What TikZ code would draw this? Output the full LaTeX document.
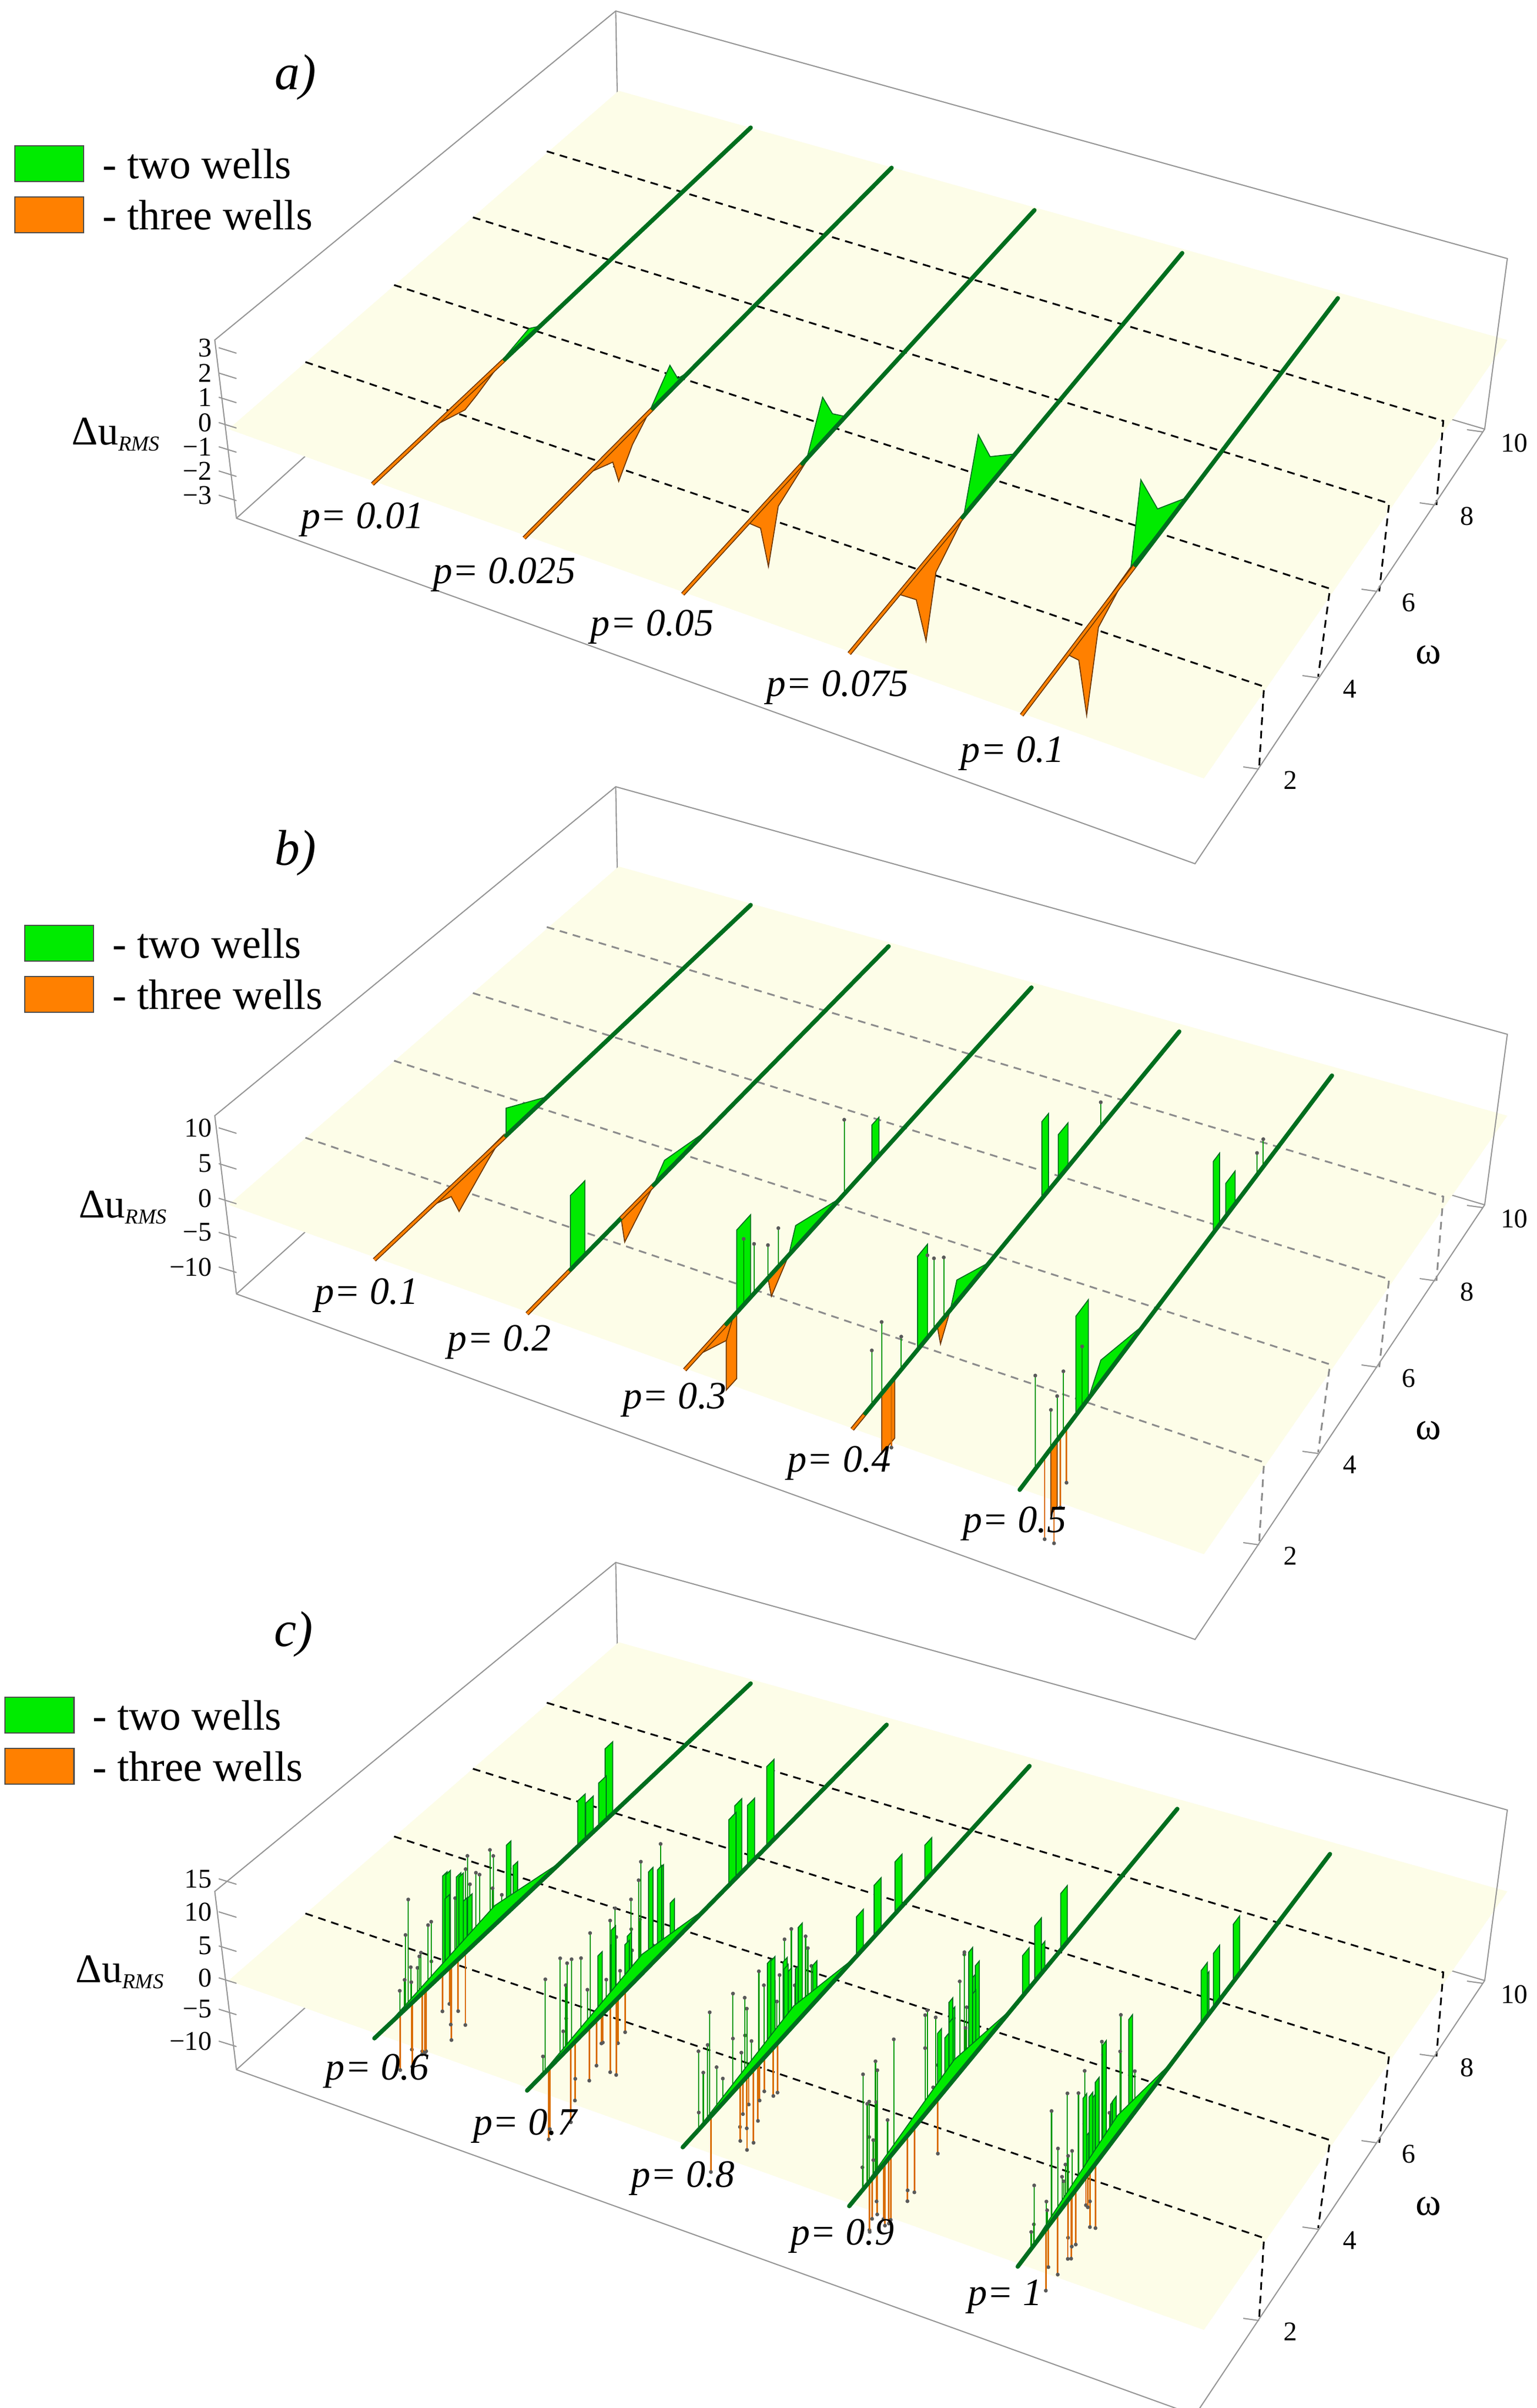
\documentclass[tikz,border=0pt]{standalone}
\usepackage{fontspec}
\setmainfont{Liberation Serif}
\usetikzlibrary{calc}
\definecolor{gfill}{RGB}{0,235,0}
\definecolor{gline}{RGB}{0,110,30}
\definecolor{ofill}{RGB}{255,128,0}
\definecolor{oline}{RGB}{110,55,0}
\definecolor{planec}{RGB}{253,253,232}
\definecolor{boxc}{RGB}{150,150,150}
\tikzset{
 boxl/.style={boxc,line width=0.6pt},
 dsh/.style={dashed,line width=0.9pt,dash pattern=on 4pt off 3pt},
 gmain/.style={gline,line width=2.2pt,line cap=round},
 omain/.style={draw=oline,double=ofill,double distance=1.2pt,line width=0.5pt},
 gpoly/.style={fill=gfill,draw=gline,line width=0.5pt},
 opoly/.style={fill=ofill,draw=oline,line width=0.5pt},
 gspk/.style={green!60!black,line width=0.6pt},
 ospk/.style={ofill!85!black,line width=0.8pt},
 dotn/.style={circle,fill=black!65,inner sep=0pt,minimum size=2pt},
 tickl/.style={font=\fontsize{14}{14}\selectfont},
 legt/.style={font=\fontsize{22}{22}\selectfont,anchor=west},
 plab/.style={font=\fontsize{20}{20}\selectfont\itshape},
 panl/.style={font=\fontsize{26}{26}\selectfont\itshape},
 dul/.style={font=\fontsize{21}{21}\selectfont},
}
\newcommand{\up}[3]{\draw[gspk] ($(#1-s)!#2!(#1-e)$) -- ($(#1-s)!#2!(#1-e)+(0,-#3)$) node[dotn]{};}
\newcommand{\dn}[3]{\draw[ospk] ($(#1-s)!#2!(#1-e)$) -- ($(#1-s)!#2!(#1-e)+(0,#3)$) node[dotn]{};}
\newcommand{\gbar}[4]{\filldraw[gpoly] ($(#1-s)!#2!(#1-e)$) -- ($(#1-s)!#2!(#1-e)+(0,-#4)$) -- ($(#1-s)!#3!(#1-e)+(0,-#4)$) -- ($(#1-s)!#3!(#1-e)$) -- cycle;}
\newcommand{\obar}[4]{\filldraw[opoly] ($(#1-s)!#2!(#1-e)$) -- ($(#1-s)!#2!(#1-e)+(0,#4)$) -- ($(#1-s)!#3!(#1-e)+(0,#4)$) -- ($(#1-s)!#3!(#1-e)$) -- cycle;}
\newcommand{\gtri}[5]{\filldraw[gpoly] ($(#1-s)!#2!(#1-e)$) -- ($(#1-s)!#3!(#1-e)+(0,-#5)$) -- ($(#1-s)!#4!(#1-e)$) -- cycle;}
\newcommand{\otri}[5]{\filldraw[opoly] ($(#1-s)!#2!(#1-e)$) -- ($(#1-s)!#3!(#1-e)+(0,#5)$) -- ($(#1-s)!#4!(#1-e)$) -- cycle;}
\newcommand{\oseg}[3]{\draw[omain] ($(#1-s)!#2!(#1-e)$) -- ($(#1-s)!#3!(#1-e)$);}
\newcommand{\gseg}[3]{\draw[gmain] ($(#1-s)!#2!(#1-e)$) -- ($(#1-s)!#3!(#1-e)$);}
\newcommand{\panelback}[1]{%
 \coordinate (BT) at (625,20); \coordinate (LT) at (218,618); \coordinate (LB) at (240,942);
 \coordinate (RT) at (1530,470); \coordinate (RB) at (1507,780); \coordinate (BB) at (628,315);
 \coordinate (FR) at (1213,1570);
 \draw[boxl] (BT) -- (BB) -- (RB); \draw[boxl] (BB) -- (LB);
 \fill[planec] (232,780) -- (628,165) -- (1530,618) -- (1222,1415) -- cycle;
 \draw[dsh,#1] (555,275) -- (1465,765) -- (1458,918);
 \draw[dsh,#1] (480,395) -- (1410,915) -- (1400,1075);
 \draw[dsh,#1] (400,518) -- (1350,1070) -- (1338,1230);
 \draw[dsh,#1] (310,658) -- (1283,1248) -- (1278,1398);
}
\newcommand{\panelfront}{%
 \draw[boxl] (LT) -- (BT) -- (RT) -- (RB) -- (FR) -- (LB) -- cycle;
 \foreach \x/\y/\l in {1505/785/10,1457/918/8,1398/1075/6,1338/1232/4,1278/1398/2}{
   \draw[boxl] (\x,\y) -- ++(-16,-4);
   \node[tickl] at (\x+32,\y+20) {\l};}
 \node[font=\fontsize{20}{20}\selectfont] at (1450,1190) {ω};
}
\newcommand{\legend}[2]{%
 \filldraw[fill=gfill,draw=black!70,line width=0.7pt] (#1,#2) rectangle ++(70,65);
 \node[legt] at (#1+82,#2+33) {- two wells};
 \filldraw[fill=ofill,draw=black!70,line width=0.7pt] (#1,#2+93) rectangle ++(70,65);
 \node[legt] at (#1+82,#2+126) {- three wells};
}
\newcommand{\ztick}[2]{\draw[boxl] (222,#1) -- ++(18,10); \node[tickl,anchor=east] at (222,#1) {#2};}
\newcommand{\dulab}[2]{\node[dul] at (#1,#2) {Δu\textsubscript{\textit{\fontsize{11}{11}\selectfont RMS}}};}
\begin{document}
\begin{tikzpicture}[x=0.017904cm,y=-0.01cm]
\useasboundingbox (0,0) rectangle (1560,4377);
\fill[white] (0,0) rectangle (1560,4377);
%================ panel a
\begin{scope}
\panelback{black}
\coordinate (a1-s) at (378,880); \coordinate (a1-e) at (762,232);
\coordinate (a2-s) at (532,978); \coordinate (a2-e) at (905,305);
\coordinate (a3-s) at (693,1080); \coordinate (a3-e) at (1050,382);
\coordinate (a4-s) at (862,1188); \coordinate (a4-e) at (1200,460);
\coordinate (a5-s) at (1037,1300); \coordinate (a5-e) at (1358,542);
\filldraw[opoly] (445,770) -- (510,655) -- (484,718) -- (472,745) -- cycle;
\filldraw[gpoly] (512,650) -- (537,597) -- (550,592) -- (530,628) -- cycle;
\filldraw[opoly] (597,860) -- (660,745) -- (642,808) -- (628,875) -- (622,840) -- cycle;
\filldraw[gpoly] (660,745) -- (680,664) -- (688,688) -- (700,675) -- cycle;
\filldraw[opoly] (759,950) -- (818,840) -- (790,920) -- (780,1030) -- (772,960) -- cycle;
\filldraw[gpoly] (818,840) -- (835,722) -- (845,752) -- (858,757) -- cycle;
\filldraw[opoly] (912,1080) -- (978,940) -- (950,1040) -- (940,1165) -- (930,1090) -- cycle;
\filldraw[gpoly] (978,940) -- (993,790) -- (1005,830) -- (1031,825) -- cycle;
\filldraw[opoly] (1084,1190) -- (1148,1030) -- (1115,1140) -- (1103,1300) -- (1095,1200) -- cycle;
\filldraw[gpoly] (1148,1030) -- (1158,872) -- (1175,925) -- (1204,905) -- cycle;
\oseg{a1}{0}{0.35}\gseg{a1}{0.35}{1}
\oseg{a2}{0}{0.35}\gseg{a2}{0.35}{1}
\oseg{a3}{0}{0.34}\gseg{a3}{0.34}{1}
\oseg{a4}{0}{0.34}\gseg{a4}{0.34}{1}
\oseg{a5}{0}{0.36}\gseg{a5}{0.36}{1}
\panelfront
\ztick{632}{3}\ztick{678}{2}\ztick{722}{1}\ztick{768}{0}\ztick{812}{−1}\ztick{856}{−2}\ztick{900}{−3}
\dulab{118}{790}
\node[panl] at (300,140) {a)};
\legend{15}{265}
\node[plab] at (368,945) {p= 0.01};
\node[plab] at (512,1045) {p= 0.025};
\node[plab] at (662,1140) {p= 0.05};
\node[plab] at (850,1250) {p= 0.075};
\node[plab] at (1028,1370) {p= 0.1};
\end{scope}
%================ panel b
\begin{scope}[shift={(0,1410)}]
\panelback{black!45}
\coordinate (b1-s) at (380,880); \coordinate (b1-e) at (762,235);
\coordinate (b2-s) at (535,978); \coordinate (b2-e) at (902,310);
\coordinate (b3-s) at (695,1080); \coordinate (b3-e) at (1047,385);
\coordinate (b4-s) at (865,1188); \coordinate (b4-e) at (1197,465);
\coordinate (b5-s) at (1035,1298); \coordinate (b5-e) at (1352,545);
\filldraw[opoly] (440,780) -- (510,655) -- (495,700) -- (466,792) -- (458,765) -- cycle;
\gtri{b1}{0.35}{0.35}{0.46}{50}
\oseg{b1}{0}{0.35}\gseg{b1}{0.35}{1}
\gbar{b2}{0.12}{0.16}{135}
\otri{b2}{0.26}{0.27}{0.35}{50}
\gtri{b2}{0.35}{0.38}{0.5}{25}
\oseg{b2}{0}{0.12}\gseg{b2}{0.12}{0.26}\oseg{b2}{0.26}{0.35}\gseg{b2}{0.35}{1}
\obar{b3}{0.12}{0.15}{120}
\otri{b3}{0.04}{0.12}{0.14}{30}
\gbar{b3}{0.15}{0.19}{150}
\up{b3}{0.17}{120}\up{b3}{0.2}{90}\up{b3}{0.24}{60}\up{b3}{0.27}{70}
\otri{b3}{0.24}{0.25}{0.3}{40}
\gtri{b3}{0.3}{0.32}{0.45}{40}
\up{b3}{0.46}{135}\gbar{b3}{0.54}{0.56}{70}
\oseg{b3}{0}{0.12}\gseg{b3}{0.12}{1}
\obar{b4}{0.09}{0.13}{110}
\dn{b4}{0.12}{120}
\up{b4}{0.06}{100}\up{b4}{0.09}{130}\up{b4}{0.15}{60}
\gbar{b4}{0.2}{0.23}{170}\up{b4}{0.25}{130}\up{b4}{0.28}{110}\up{b4}{0.23}{150}
\otri{b4}{0.26}{0.27}{0.3}{40}
\gtri{b4}{0.3}{0.32}{0.42}{40}
\gbar{b4}{0.58}{0.6}{140}\gbar{b4}{0.63}{0.66}{80}\up{b4}{0.76}{45}
\oseg{b4}{0}{0.04}\gseg{b4}{0.04}{1}
\dn{b5}{0.08}{150}\dn{b5}{0.11}{180}\dn{b5}{0.13}{130}\dn{b5}{0.15}{100}
\obar{b5}{0.1}{0.12}{120}
\up{b5}{0.05}{170}\up{b5}{0.1}{70}\up{b5}{0.12}{80}\up{b5}{0.14}{110}
\gbar{b5}{0.18}{0.22}{180}\up{b5}{0.2}{110}
\gtri{b5}{0.22}{0.26}{0.4}{40}
\gbar{b5}{0.62}{0.64}{130}\gbar{b5}{0.66}{0.69}{60}\up{b5}{0.76}{40}\up{b5}{0.78}{50}
\gseg{b5}{0}{1}
\panelfront
\ztick{640}{10}\ztick{705}{5}\ztick{768}{0}\ztick{830}{−5}\ztick{893}{−10}
\dulab{125}{785}
\node[panl] at (300,140) {b)};
\legend{25}{272}
\node[plab] at (372,945) {p= 0.1};
\node[plab] at (507,1030) {p= 0.2};
\node[plab] at (685,1135) {p= 0.3};
\node[plab] at (852,1250) {p= 0.4};
\node[plab] at (1030,1360) {p= 0.5};
\end{scope}
%================ panel c
\begin{scope}[shift={(0,2820)}]
\panelback{black}
\coordinate (c1-s) at (380,885); \coordinate (c1-e) at (762,240);
\coordinate (c2-s) at (535,980); \coordinate (c2-e) at (900,315);
\coordinate (c3-s) at (693,1083); \coordinate (c3-e) at (1045,390);
\coordinate (c4-s) at (862,1190); \coordinate (c4-e) at (1195,468);
\coordinate (c5-s) at (1033,1300); \coordinate (c5-e) at (1350,550);
\pgfmathsetseed{11}
\foreach \L in {c1,c2,c3,c4,c5}{
 \foreach \k in {1,...,13}{\pgfmathsetmacro\t{0.06+0.22*rnd}\pgfmathsetmacro\h{50+90*rnd}\dn{\L}{\t}{\h}}
 \foreach \k in {1,...,26}{\pgfmathsetmacro\t{0.04+0.34*rnd}\pgfmathsetmacro\h{30+180*rnd}\up{\L}{\t}{\h}}
 \foreach \k in {1,...,9}{\pgfmathsetmacro\t{0.18+0.22*rnd}\pgfmathsetmacro\u{\t+0.012}\pgfmathsetmacro\h{70+130*rnd}\gbar{\L}{\t}{\u}{\h}}
 \foreach \k in {1,...,4}{\pgfmathsetmacro\t{0.5+0.2*rnd}\pgfmathsetmacro\u{\t+0.02}\pgfmathsetmacro\h{50+100*rnd}\gbar{\L}{\t}{\u}{\h}}
 \gtri{\L}{0.02}{0.32}{0.5}{35}
 \gseg{\L}{0}{1}
}
\panelfront
\ztick{595}{15}\ztick{655}{10}\ztick{717}{5}\ztick{775}{0}\ztick{832}{−5}\ztick{890}{−10}
\dulab{122}{765}
\node[panl] at (298,150) {c)};
\legend{5}{265}
\node[plab] at (383,945) {p= 0.6};
\node[plab] at (533,1045) {p= 0.7};
\node[plab] at (693,1140) {p= 0.8};
\node[plab] at (855,1245) {p= 0.9};
\node[plab] at (1020,1355) {p= 1};
\end{scope}
\end{tikzpicture}
\end{document}
